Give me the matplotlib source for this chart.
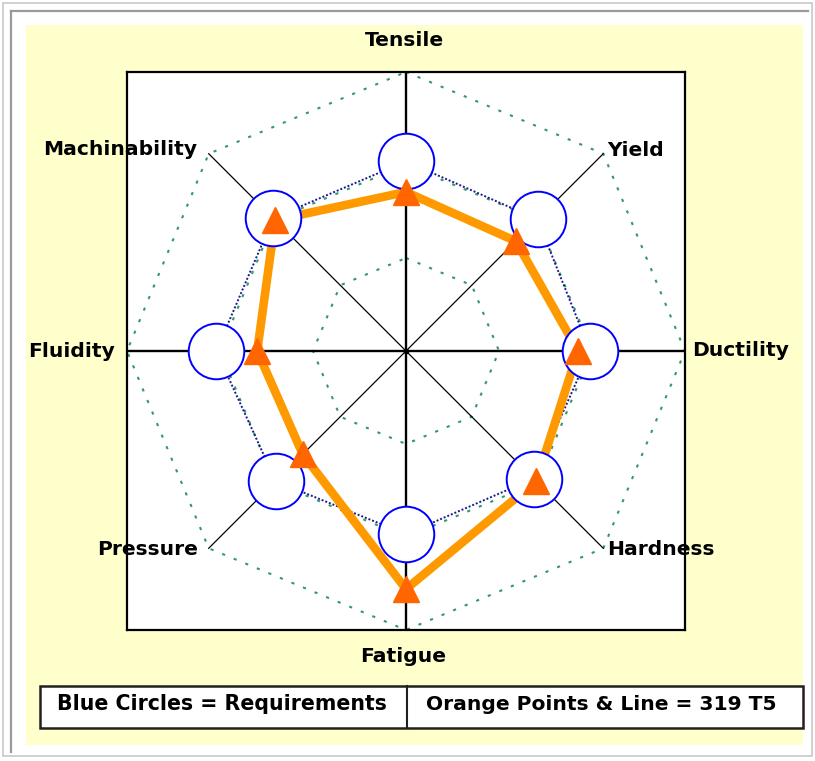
import numpy as np
import matplotlib
matplotlib.use('Agg')
import matplotlib.pyplot as plt
from matplotlib.patches import Rectangle
from matplotlib.lines import Line2D

# ---------------- data ----------------
categories = ["Tensile", "Yield", "Ductility", "Hardness",
              "Fatigue", "Pressure", "Fluidity", "Machinability"]
requirements = [2.04, 2.00, 1.98, 1.94, 1.97, 1.98, 2.04, 2.02]
alloy_319_t5 = [1.71, 1.67, 1.85, 1.98, 2.56, 1.57, 1.60, 1.99]
ring_levels = [1, 2, 3]
legend_labels = ["Blue Circles = Requirements", "Orange Points & Line = 319 T5"]

# ---------------- figure ----------------
W, H = 815, 761
fig = plt.figure(figsize=(W / 100, H / 100), dpi=100)
fig.patch.set_facecolor('white')

def fx(px):
    return px / W

def fy(py):
    return 1 - py / H

# outer frame + yellow panel (behind the axes)
fig.patches.append(Rectangle((fx(3), fy(756)), fx(809), 753 / H, fill=False,
                             edgecolor='#c8c8c8', lw=1.2, transform=fig.transFigure,
                             zorder=-10))
fig.lines.append(Line2D([fx(11), fx(11)], [fy(11), fy(752)], color='#9a9a9a', lw=1.6,
                        transform=fig.transFigure, zorder=-10))
fig.lines.append(Line2D([fx(11), fx(808)], [fy(11), fy(11)], color='#9a9a9a', lw=1.6,
                        transform=fig.transFigure, zorder=-10))
fig.patches.append(Rectangle((fx(26), fy(745)), 777 / W, 720 / H, facecolor='#FFFFCC',
                             edgecolor='none', transform=fig.transFigure, zorder=-9))

# ---------------- axes ----------------
ax = fig.add_axes([fx(127), fy(630), 558 / W, 558 / H])
ax.set_zorder(1)
ax.set_facecolor('white')
R = max(ring_levels)
ax.set_xlim(-R, R)
ax.set_ylim(-R, R)
ax.set_xticks([])
ax.set_yticks([])
for s in ax.spines.values():
    s.set_color('black')
    s.set_linewidth(1.6)
    s.set_zorder(7)

n = len(categories)
theta = np.deg2rad(90 - 360 / n * np.arange(n))
ct, st = np.cos(theta), np.sin(theta)

# grid rings (octagons)
for lvl in ring_levels:
    xs = np.append(lvl * ct, lvl * ct[0])
    ys = np.append(lvl * st, lvl * st[0])
    ax.plot(xs, ys, color='#339966', ls=(0, (1.5, 4.5)), lw=1.5, zorder=1, clip_on=False)

# spokes
for i in range(n):
    ax.plot([0, R * ct[i]], [0, R * st[i]], color='black',
            lw=1.7 if i % 2 == 0 else 0.9, zorder=2)

# requirement polygon
req = np.array(requirements)
rx = np.append(req * ct, req[0] * ct[0])
ry = np.append(req * st, req[0] * st[0])
ax.plot(rx, ry, color='#1a1a90', ls=(0, (1, 1)), lw=1.4, zorder=3)

# alloy line
val = np.array(alloy_319_t5)
vx = np.append(val * ct, val[0] * ct[0])
vy = np.append(val * st, val[0] * st[0])
ax.plot(vx, vy, color='#FF9900', lw=6.2, zorder=4, solid_joinstyle='miter')

# requirement circles
ax.plot(req * ct, req * st, ls='none', marker='o', ms=40, mfc='white',
        mec='#0000FF', mew=1.4, zorder=5)

# alloy triangles
ax.plot(val * ct, val * st, ls='none', marker='^', ms=19, color='#FF6600', zorder=6)

ax.plot([0], [0], marker='o', ms=3, color='black', zorder=6)

# category labels (offsets in pixels from the outer vertex)
label_offsets = [(-2, 31, 'center'), (4, 3, 'left'), (7, 0, 'left'), (4, -1, 'left'),
                 (-3, -26, 'center'), (-11, -1, 'right'), (-12, 0, 'right'),
                 (-11, 4, 'right')]
for i, name in enumerate(categories):
    dx, dy, ha = label_offsets[i]
    ax.annotate(name, xy=(R * ct[i], R * st[i]), xytext=(dx, dy),
                textcoords='offset pixels', ha=ha, va='center',
                fontsize=14.6, fontweight='bold', family='DejaVu Sans',
                color='black', annotation_clip=False, zorder=10)

# ---------------- legend box ----------------
fig.patches.append(Rectangle((fx(40), fy(728)), 763 / W, 42 / H, facecolor='white',
                             edgecolor='#202020', lw=1.8, transform=fig.transFigure,
                             zorder=5))
fig.lines.append(Line2D([fx(407), fx(407)], [fy(686), fy(728)], color='#202020', lw=1.5,
                        transform=fig.transFigure, zorder=6))
fig.text(fx(222), fy(704), legend_labels[0], ha='center', va='center',
         fontsize=14.8, fontweight='bold', family='DejaVu Sans', zorder=7)
fig.text(fx(601), fy(704), legend_labels[1], ha='center', va='center',
         fontsize=14.6, fontweight='bold', family='DejaVu Sans', zorder=7)

fig.savefig('out.png', dpi=100)
